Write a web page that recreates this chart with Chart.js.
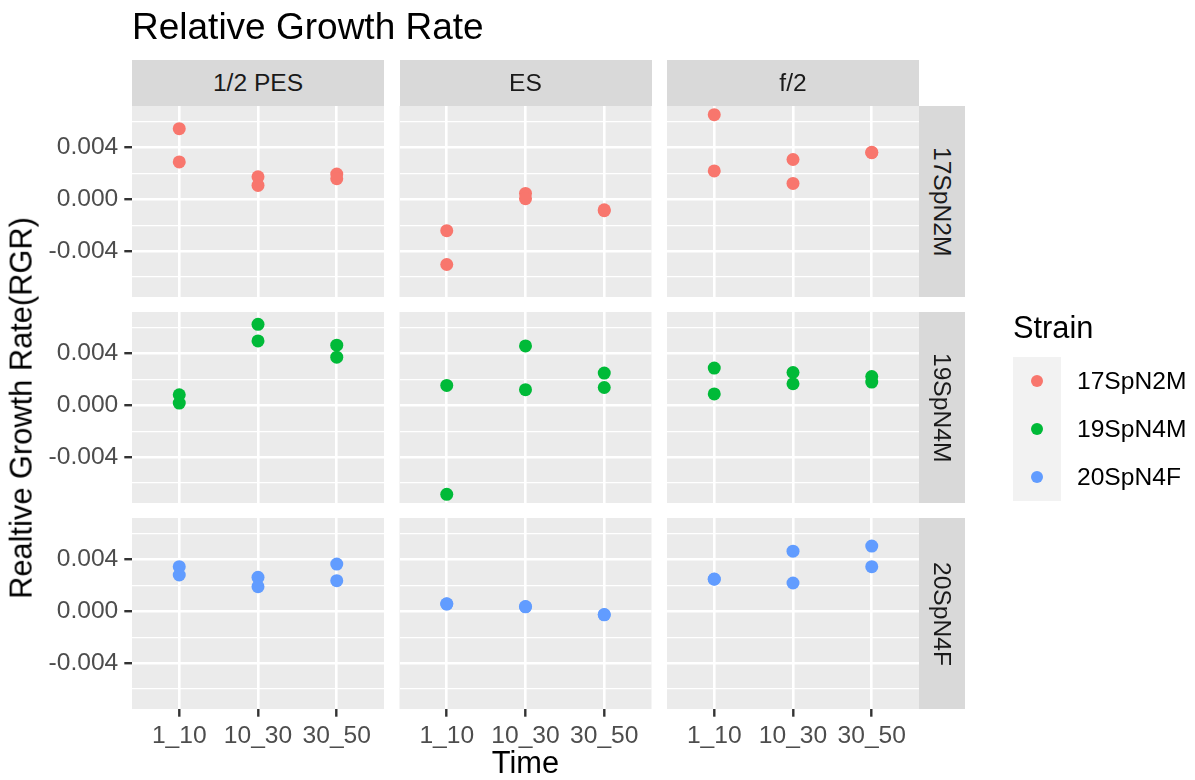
<!DOCTYPE html>
<html>
<head>
<meta charset="utf-8">
<script src="https://cdn.jsdelivr.net/npm/chart.js@4.4.1/dist/chart.umd.min.js"></script>
<style>
  body { margin: 0; background: #ffffff; }
  #fig { position: relative; width: 1195px; height: 780px; overflow: hidden;
         font-family: "Liberation Sans", Arial, sans-serif; }
  #fig canvas { position: absolute; left: 0; top: 0; }
  .txt { position: absolute; white-space: nowrap; line-height: 1; }
  .strip { position: absolute; background: #d9d9d9; color: #1a1a1a; font-size: 24.6px;
           display: flex; align-items: center; justify-content: center; line-height: 1; }
  .strip.v span { writing-mode: vertical-rl; }
  .dot { position: absolute; border-radius: 50%; }
</style>
</head>
<body>
<div id="fig"></div>
<script>
// ---- data -------------------------------------------------------------
const times   = ['1_10', '10_30', '30_50'];
const media   = ['1/2 PES', 'ES', 'f/2'];
const strains = ['17SpN2M', '19SpN4M', '20SpN4F'];
const strainColors = ['#F8766D', '#00BA38', '#619CFF'];

const yTicks      = [-0.006, -0.004, -0.002, 0, 0.002, 0.004, 0.006];
const yLabelTicks = [-0.004, 0, 0.004];

// relative growth rate, two replicates per interval (1_10, 10_30, 30_50)
const rgr_17SpN2M_halfPES = [[0.00546, 0.00289], [0.00174, 0.00108], [0.00195, 0.00160]];
const rgr_17SpN2M_ES      = [[-0.00242, -0.00503], [0.00046, 0.00005], [-0.00080, -0.00088]];
const rgr_17SpN2M_f2      = [[0.00654, 0.00220], [0.00308, 0.00123], [0.00364, 0.00360]];

const rgr_19SpN4M_halfPES = [[0.00082, 0.00018], [0.00626, 0.00498], [0.00465, 0.00372]];
const rgr_19SpN4M_ES      = [[0.00154, -0.00687], [0.00459, 0.00121], [0.00249, 0.00138]];
const rgr_19SpN4M_f2      = [[0.00288, 0.00088], [0.00254, 0.00167], [0.00223, 0.00180]];

const rgr_20SpN4F_halfPES = [[0.00345, 0.00281], [0.00263, 0.00191], [0.00365, 0.00237]];
const rgr_20SpN4F_ES      = [[0.00058, 0.00056], [0.00037, 0.00035], [-0.00025, -0.00027]];
const rgr_20SpN4F_f2      = [[0.00250, 0.00248], [0.00465, 0.00219], [0.00504, 0.00345]];

// rows = strain, columns = medium
const panelTable = [
  [rgr_17SpN2M_halfPES, rgr_17SpN2M_ES, rgr_17SpN2M_f2],
  [rgr_19SpN4M_halfPES, rgr_19SpN4M_ES, rgr_19SpN4M_f2],
  [rgr_20SpN4F_halfPES, rgr_20SpN4F_ES, rgr_20SpN4F_f2]
];

// ---- layout -----------------------------------------------------------
const W = 1195, H = 780;
const colLeft = [132, 399.5, 667], colW = 252;
const rowTop  = [106, 312, 518],   rowH = 191;
const stripSize = 46;
const FONT = '"Liberation Sans", Arial, sans-serif';

// shared y range with 5% expansion on each side
const allVals = panelTable.flat(3);
const dMin = Math.min(...allVals), dMax = Math.max(...allVals);
const pad = (dMax - dMin) * 0.05;
const yMin = dMin - pad, yMax = dMax + pad;

const isMajor = v => yLabelTicks.some(t => Math.abs(t - v) < 1e-9);

const fig = document.getElementById('fig');

const panelBg = {
  id: 'panelBg',
  beforeDraw(chart) {
    const a = chart.chartArea, ctx = chart.ctx;
    ctx.save();
    ctx.fillStyle = '#ebebeb';
    ctx.fillRect(a.left, a.top, a.right - a.left, a.bottom - a.top);
    ctx.restore();
  }
};

function addText(text, css) {
  const d = document.createElement('div');
  d.className = 'txt';
  d.textContent = text;
  Object.assign(d.style, css);
  fig.appendChild(d);
  return d;
}

for (let r = 0; r < 3; r++) {
  for (let c = 0; c < 3; c++) {
    const leftCol = c === 0, bottomRow = r === 2;
    const yAxisW = leftCol ? 92 : 0;
    const xAxisH = bottomRow ? 45 : 0;
    const canvas = document.createElement('canvas');
    canvas.width = W; canvas.height = H;
    fig.appendChild(canvas);

    const points = panelTable[r][c].flatMap((pair, i) => pair.map(v => ({ x: i + 1, y: v })));

    new Chart(canvas, {
      type: 'scatter',
      data: {
        datasets: [{
          label: strains[r],
          data: points,
          backgroundColor: strainColors[r],
          borderWidth: 0,
          pointRadius: 6.5,
          pointHoverRadius: 6.5
        }]
      },
      plugins: [panelBg],
      options: {
        responsive: false,
        animation: false,
        events: [],
        layout: {
          padding: {
            left: colLeft[c] - yAxisW,
            top: rowTop[r],
            right: W - (colLeft[c] + colW),
            bottom: H - (rowTop[r] + rowH) - xAxisH
          }
        },
        plugins: { legend: { display: false }, tooltip: { enabled: false } },
        scales: {
          x: {
            type: 'linear',
            min: 0.4, max: 3.6,
            afterBuildTicks: s => { s.ticks = times.map((t, i) => ({ value: i + 1 })); },
            afterFit: s => { s.height = xAxisH; },
            ticks: {
              display: bottomRow,
              autoSkip: false, maxRotation: 0, minRotation: 0,
              padding: 5,
              color: '#4d4d4d',
              font: { family: FONT, size: 24.6 },
              callback: v => times[Math.round(v) - 1]
            },
            grid: {
              color: '#ffffff', lineWidth: 2.6,
              drawTicks: bottomRow, tickLength: 7.7,
              tickColor: '#333333', tickWidth: 2.4
            },
            border: { display: false }
          },
          y: {
            type: 'linear',
            min: yMin, max: yMax,
            afterBuildTicks: s => { s.ticks = yTicks.map(v => ({ value: v })); },
            afterFit: s => { s.width = yAxisW; },
            ticks: {
              display: leftCol,
              autoSkip: false,
              padding: 6,
              color: '#4d4d4d',
              font: { family: FONT, size: 24.6 },
              callback: v => isMajor(v) ? v.toFixed(3) : ''
            },
            grid: {
              color: '#ffffff',
              lineWidth: ctx => isMajor(ctx.tick.value) ? 2.4 : 1.2,
              drawTicks: leftCol, tickLength: 7.7,
              tickColor: ctx => isMajor(ctx.tick.value) ? '#333333' : 'rgba(0,0,0,0)',
              tickWidth: 2.4
            },
            border: { display: false }
          }
        }
      }
    });
  }
}

// facet strips
media.forEach((m, c) => {
  const s = document.createElement('div');
  s.className = 'strip';
  Object.assign(s.style, { left: colLeft[c] + 'px', top: (rowTop[0] - stripSize) + 'px',
                           width: colW + 'px', height: stripSize + 'px' });
  s.textContent = m;
  fig.appendChild(s);
});
strains.forEach((st, r) => {
  const s = document.createElement('div');
  s.className = 'strip v';
  Object.assign(s.style, { left: (colLeft[2] + colW) + 'px', top: rowTop[r] + 'px',
                           width: stripSize + 'px', height: rowH + 'px' });
  const sp = document.createElement('span');
  sp.textContent = st;
  s.appendChild(sp);
  fig.appendChild(s);
});

// titles
addText('Relative Growth Rate', { left: '132px', top: '8px', fontSize: '37px', color: '#000' });
const xt = addText('Time', { left: '0px', top: '748px', fontSize: '30.8px', color: '#000',
                             width: '0px' });
xt.style.left = ((colLeft[0] + colLeft[2] + colW) / 2) + 'px';
xt.style.display = 'flex'; xt.style.justifyContent = 'center';
const yt = addText('Realtive Growth Rate(RGR)', { fontSize: '30.8px', color: '#000',
                   left: '22px', top: ((rowTop[0] + rowTop[2] + rowH) / 2) + 'px',
                   transform: 'translate(-50%, -50%) rotate(-90deg)' });

// legend
addText('Strain', { left: '1013px', top: '313px', fontSize: '30.8px', color: '#000' });
const keyBg = document.createElement('div');
Object.assign(keyBg.style, { position: 'absolute', left: '1013px', top: '357px',
                             width: '48px', height: '144px', background: '#f2f2f2' });
fig.appendChild(keyBg);
strains.forEach((st, i) => {
  const cy = 357 + 24 + 48 * i;
  const d = document.createElement('div');
  d.className = 'dot';
  Object.assign(d.style, { left: (1037 - 6.3) + 'px', top: (cy - 6.3) + 'px',
                           width: '12.6px', height: '12.6px', background: strainColors[i] });
  fig.appendChild(d);
  addText(st, { left: '1077px', top: (cy - 12.3) + 'px', fontSize: '24.6px', color: '#000' });
});
</script>
</body>
</html>
